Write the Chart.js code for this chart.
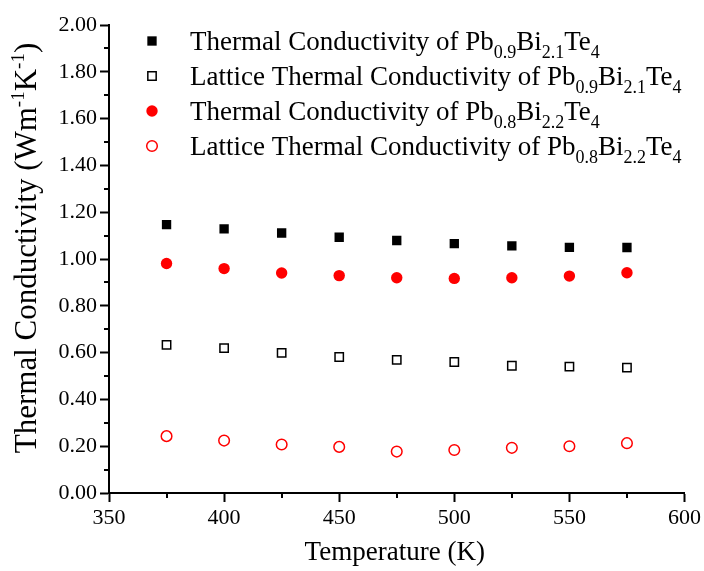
<!DOCTYPE html>
<html>
<head>
<meta charset="utf-8">
<script src="https://cdn.jsdelivr.net/npm/chart.js@4/dist/chart.umd.min.js"></script>
<style>
  html, body { margin: 0; padding: 0; background: #fff; }
  #wrap { width: 704px; height: 571px; position: relative; }
</style>
</head>
<body>
<div id="wrap"><canvas id="c" width="704" height="571"></canvas></div>
<script>
// Measurement temperatures (K)
const temperatures = [375, 400, 425, 450, 475, 500, 525, 550, 575];

// Thermal conductivity, W m^-1 K^-1
const totalPb09Bi21 = [1.147, 1.129, 1.111, 1.093, 1.079, 1.066, 1.056, 1.050, 1.049];
const latticePb09Bi21 = [0.633, 0.619, 0.599, 0.581, 0.569, 0.560, 0.544, 0.540, 0.536];
const totalPb08Bi22 = [0.981, 0.959, 0.940, 0.929, 0.920, 0.917, 0.920, 0.927, 0.941];
const latticePb08Bi22 = [0.243, 0.224, 0.207, 0.197, 0.177, 0.184, 0.193, 0.200, 0.213];

// Legend labels as [text, kind] runs ("sub" = subscript)
const labelTotalPb09 = [["Thermal Conductivity of Pb", ""], ["0.9", "sub"], ["Bi", ""], ["2.1", "sub"], ["Te", ""], ["4", "sub"]];
const labelLatticePb09 = [["Lattice Thermal Conductivity of Pb", ""], ["0.9", "sub"], ["Bi", ""], ["2.1", "sub"], ["Te", ""], ["4", "sub"]];
const labelTotalPb08 = [["Thermal Conductivity of Pb", ""], ["0.8", "sub"], ["Bi", ""], ["2.2", "sub"], ["Te", ""], ["4", "sub"]];
const labelLatticePb08 = [["Lattice Thermal Conductivity of Pb", ""], ["0.8", "sub"], ["Bi", ""], ["2.2", "sub"], ["Te", ""], ["4", "sub"]];

// Axis titles
const xTitle = [["Temperature (K)", ""]];
const yTitle = [["Thermal Conductivity (Wm", ""], ["-1", "sup"], ["K", ""], ["-1", "sup"], [")", ""]];

// Axis ranges and ticks
const xMin = 350, xMax = 600, xMajor = 50, xMinor = 25;
const yMin = 0, yMax = 2, yMajor = 0.2, yMinor = 0.1;

const SERIF = "'Liberation Serif', 'Times New Roman', serif";

function toPoints(ys) {
  return temperatures.map((t, i) => ({ x: t, y: ys[i] }));
}

// Width of a run-list at the given sizes
function runsWidth(ctx, runs, big, small) {
  let w = 0;
  for (const [txt, kind] of runs) {
    ctx.font = (kind ? small : big) + 'px ' + SERIF;
    w += ctx.measureText(txt).width;
  }
  return w;
}

// Draw text runs starting at (x, baseline y)
function drawRuns(ctx, runs, x, y, big, small, subDy, supDy) {
  ctx.fillStyle = '#000';
  ctx.textBaseline = 'alphabetic';
  ctx.textAlign = 'left';
  for (const [txt, kind] of runs) {
    ctx.font = (kind ? small : big) + 'px ' + SERIF;
    let dy = 0;
    if (kind === 'sub') dy = subDy;
    if (kind === 'sup') dy = supDy;
    ctx.fillText(txt, x, y + dy);
    x += ctx.measureText(txt).width;
  }
}

function drawMarker(ctx, ds, x, y) {
  const r = ds.pointRadius;
  ctx.save();
  ctx.lineWidth = ds.pointBorderWidth;
  ctx.strokeStyle = ds.pointBorderColor;
  ctx.fillStyle = ds.pointBackgroundColor;
  ctx.beginPath();
  if (ds.pointStyle === 'rect') {
    const h = r * Math.SQRT1_2;
    ctx.rect(x - h, y - h, 2 * h, 2 * h);
  } else {
    ctx.arc(x, y, r, 0, Math.PI * 2);
  }
  ctx.fill();
  if (ds.pointBorderWidth > 0) ctx.stroke();
  ctx.restore();
}

const decorations = {
  id: 'decorations',
  afterDraw(chart) {
    const ctx = chart.ctx;
    const xs = chart.scales.x, ys = chart.scales.y;
    const area = chart.chartArea;
    ctx.save();

    // minor ticks
    ctx.strokeStyle = '#000';
    ctx.lineWidth = 2;
    ctx.beginPath();
    for (let v = xMin + xMinor; v < xMax; v += xMajor) {
      const px = Math.round(xs.getPixelForValue(v));
      ctx.moveTo(px, area.bottom);
      ctx.lineTo(px, area.bottom + 5);
    }
    for (let v = yMin + yMinor; v < yMax; v += yMajor) {
      const py = Math.round(ys.getPixelForValue(v));
      ctx.moveTo(area.left, py);
      ctx.lineTo(area.left - 5, py);
    }
    ctx.stroke();

    // x axis title
    const xw = runsWidth(ctx, xTitle, 27, 18);
    drawRuns(ctx, xTitle, (area.left + area.right) / 2 - xw / 2 - 2, 560, 27, 18, 7, -10);

    // y axis title, rotated
    const yw = runsWidth(ctx, yTitle, 31, 19);
    ctx.save();
    ctx.translate(36, 248);
    ctx.rotate(-Math.PI / 2);
    drawRuns(ctx, yTitle, -yw / 2, 0, 31, 19, 8, -12);
    ctx.restore();

    // legend
    const rows = [41, 76, 111, 146];
    chart.data.datasets.forEach((ds, i) => {
      drawMarker(ctx, ds, 152, rows[i]);
      drawRuns(ctx, ds.legendRuns, 190, rows[i] + 9, 27, 18, 8, -10);
    });

    ctx.restore();
  }
};

const tickFont = { family: SERIF, size: 22 };

new Chart(document.getElementById('c'), {
  type: 'scatter',
  data: {
    datasets: [
      {
        label: 'Thermal Conductivity of Pb0.9Bi2.1Te4',
        legendRuns: labelTotalPb09,
        data: toPoints(totalPb09Bi21),
        pointStyle: 'rect', pointRadius: 6.6,
        pointBackgroundColor: '#000', pointBorderColor: '#000', pointBorderWidth: 0
      },
      {
        label: 'Lattice Thermal Conductivity of Pb0.9Bi2.1Te4',
        legendRuns: labelLatticePb09,
        data: toPoints(latticePb09Bi21),
        pointStyle: 'rect', pointRadius: 5.9,
        pointBackgroundColor: '#fff', pointBorderColor: '#000', pointBorderWidth: 1.5
      },
      {
        label: 'Thermal Conductivity of Pb0.8Bi2.2Te4',
        legendRuns: labelTotalPb08,
        data: toPoints(totalPb08Bi22),
        pointStyle: 'circle', pointRadius: 5.7,
        pointBackgroundColor: '#ff0000', pointBorderColor: '#ff0000', pointBorderWidth: 0
      },
      {
        label: 'Lattice Thermal Conductivity of Pb0.8Bi2.2Te4',
        legendRuns: labelLatticePb08,
        data: toPoints(latticePb08Bi22),
        pointStyle: 'circle', pointRadius: 5.3,
        pointBackgroundColor: '#fff', pointBorderColor: '#ff0000', pointBorderWidth: 1.5
      }
    ]
  },
  options: {
    responsive: false,
    animation: false,
    events: [],
    layout: { padding: { top: 25, right: 19, left: 0, bottom: 0 } },
    plugins: { legend: { display: false }, tooltip: { enabled: false } },
    scales: {
      x: {
        type: 'linear', min: xMin, max: xMax,
        afterFit(scale) { scale.height = 78; },
        ticks: { stepSize: xMajor, color: '#000', font: tickFont, padding: 3, maxRotation: 0 },
        grid: { drawOnChartArea: false, drawTicks: true, tickLength: 9, tickWidth: 2, tickColor: '#000' },
        border: { display: true, color: '#000', width: 2 }
      },
      y: {
        type: 'linear', min: yMin, max: yMax,
        afterFit(scale) { scale.width = 109; },
        ticks: { stepSize: yMajor, color: '#000', font: tickFont, padding: 3,
                 callback: v => Number(v).toFixed(2) },
        grid: { drawOnChartArea: false, drawTicks: true, tickLength: 9, tickWidth: 2, tickColor: '#000' },
        border: { display: true, color: '#000', width: 2 }
      }
    }
  },
  plugins: [decorations]
});
</script>
</body>
</html>
